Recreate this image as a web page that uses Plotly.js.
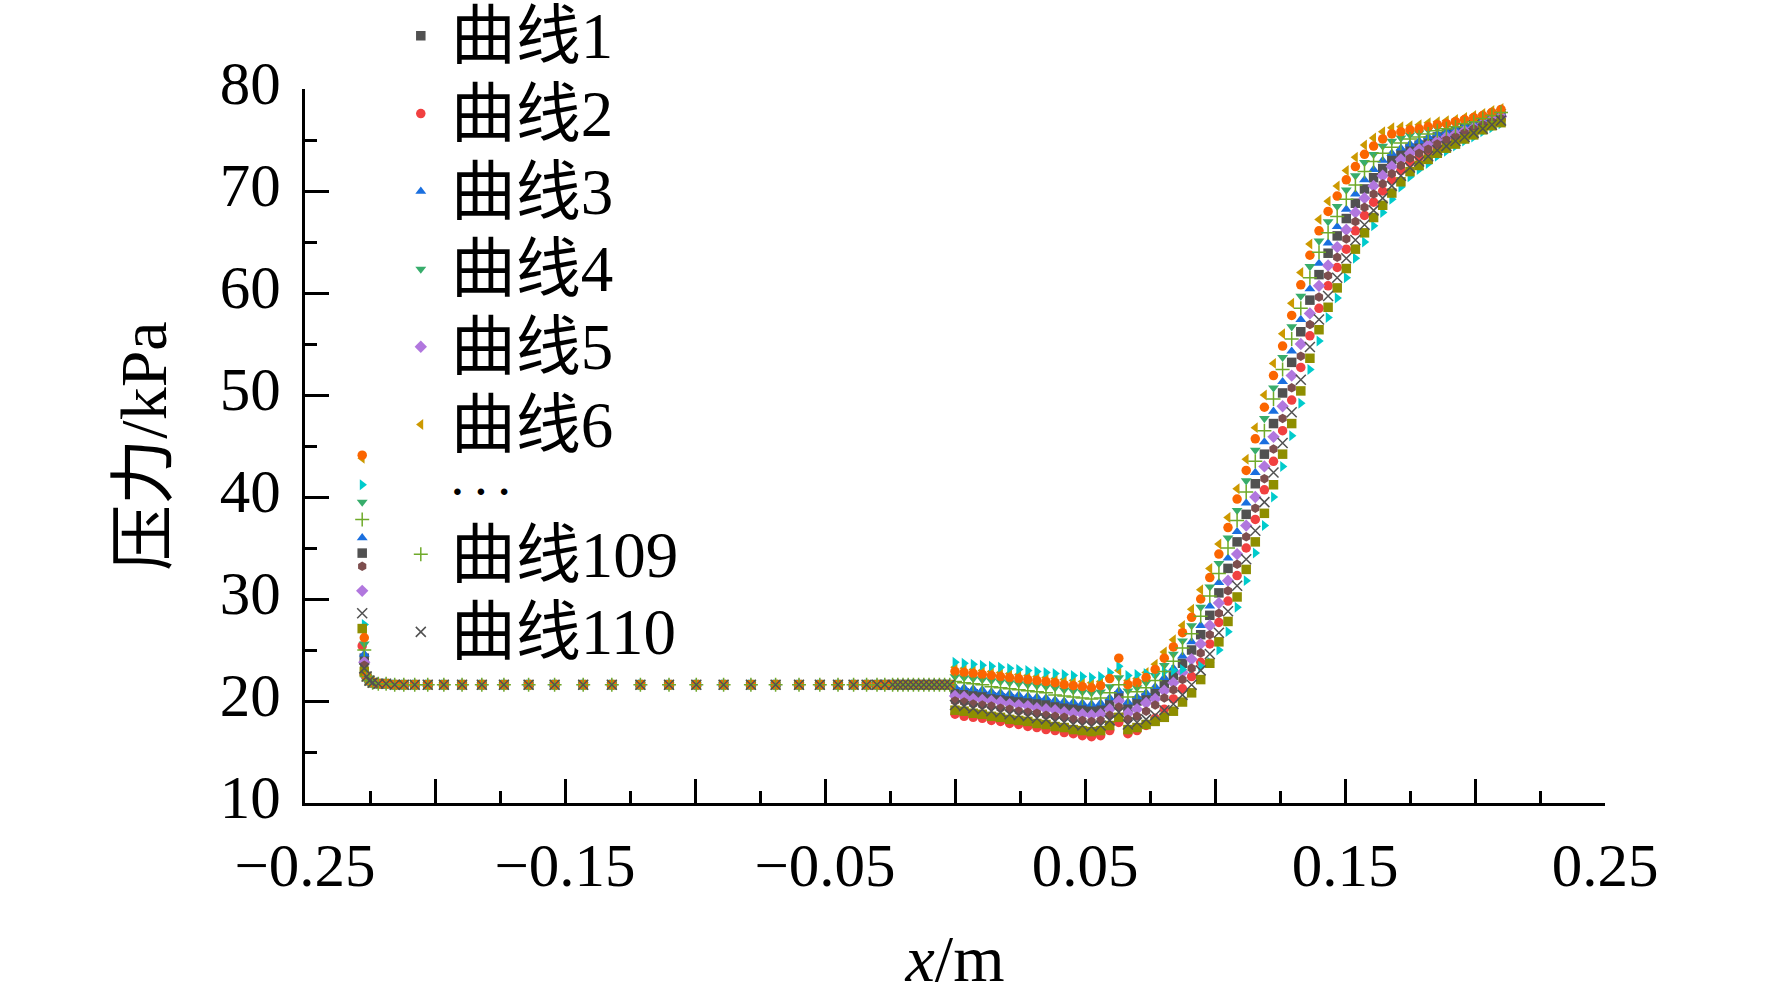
<!DOCTYPE html>
<html>
<head>
<meta charset="utf-8">
<script src="https://cdn.plot.ly/plotly-3.0.1.min.js"></script>
<style>
  html, body { margin: 0; padding: 0; background: #fff; }
  #plot { width: 1772px; height: 995px; }
</style>
</head>
<body>
<div id="plot"></div>
<script>
// approach section, same for every curve
const xHead = [-0.228, -0.2272]
const xLeft = [-0.2263, -0.2252, -0.2240, -0.2218, -0.2188, -0.2155, -0.2120, -0.2078, -0.2028, -0.1966,
  -0.1896, -0.1820, -0.1735, -0.1640, -0.1540, -0.1430, -0.1320, -0.1210, -0.1100, -0.0995,
  -0.0890, -0.0785, -0.0690, -0.0600, -0.0520, -0.0450, -0.0390, -0.0340, -0.0300, -0.0270,
  -0.0240, -0.0220, -0.0200, -0.0180, -0.0160, -0.0140, -0.0120, -0.0100, -0.0080, -0.0060,
  -0.0040, -0.0020]
const yLeft = [22.4, 22.0, 21.8, 21.7, 21.7, 21.6, 21.6, 21.6, 21.6, 21.6,
  21.6, 21.6, 21.6, 21.6, 21.6, 21.6, 21.6, 21.6, 21.6, 21.6,
  21.6, 21.6, 21.6, 21.6, 21.6, 21.6, 21.6, 21.6, 21.6, 21.6,
  21.6, 21.6, 21.6, 21.6, 21.6, 21.6, 21.6, 21.6, 21.6, 21.6,
  21.6, 21.6]

// diffuser section
const xRight = [0, 0.0035, 0.007, 0.0105, 0.014, 0.0175, 0.021, 0.0245, 0.028, 0.0315,
  0.035, 0.0385, 0.042, 0.0455, 0.049, 0.0525, 0.056, 0.0595, 0.063, 0.0665,
  0.07, 0.0735, 0.077, 0.0805, 0.084, 0.0875, 0.091, 0.0945, 0.098, 0.1015,
  0.105, 0.1085, 0.112, 0.1155, 0.119, 0.1225, 0.126, 0.1295, 0.133, 0.1365,
  0.14, 0.1435, 0.147, 0.1505, 0.154, 0.1575, 0.161, 0.1645, 0.168, 0.1715,
  0.175, 0.1785, 0.182, 0.1855, 0.189, 0.1925, 0.196, 0.1995, 0.203, 0.2065, 0.21]

// curve order: 1 2 3 4 5 6 7 8 9 10 109 110
const curveNames = ['曲线1', '曲线2', '曲线3', '曲线4', '曲线5', '曲线6', '曲线7', '曲线8', '曲线9', '曲线10', '曲线109', '曲线110']
const startY = [34.5, 25.4, 36.0, 39.5, 30.8, 43.8, 41.2, 33.2, 27.1, 44.1, 37.8, 28.6]
const secondY = [24.2, 22.6, 24.6, 25.6, 23.8, 26.8, 27.5, 23.5, 22.9, 26.2, 25.0, 23.2]

const curve1 = [20.9, 20.8, 20.7, 20.5, 20.4, 20.3, 20.2, 20.0, 19.9, 19.8, 19.7, 19.5, 19.4, 19.3, 19.2,
  19.1, 19.2, 19.7, 20.5, 19.3,
  20.0, 20.3, 20.9, 21.7, 22.5, 23.7, 25.0, 26.5, 28.4, 30.6, 33.0, 35.6, 38.3, 41.3, 44.2, 47.2, 50.2, 53.2, 56.2, 59.3,
  61.8, 63.9, 65.6, 67.3, 68.8, 70.2, 71.3, 72.2, 73.1, 73.6, 74.2, 74.5, 74.9, 75.3, 75.6, 75.8, 76.2, 76.5, 76.8, 77.1, 77.4]
const curve2 = [18.7, 18.5, 18.4, 18.3, 18.1, 18.0, 17.8, 17.7, 17.5, 17.4, 17.2, 17.1, 16.9, 16.8, 16.6,
  16.5, 16.6, 17.1, 17.9, 16.8,
  17.1, 17.6, 18.3, 19.2, 20.2, 21.2, 22.4, 23.8, 25.6, 27.7, 29.8, 32.3, 35.0, 37.8, 40.7, 43.5, 46.5, 49.5, 52.7, 55.8,
  58.5, 60.7, 62.5, 64.3, 66.1, 67.6, 68.9, 70.0, 71.1, 72.0, 72.8, 73.3, 73.8, 74.3, 74.7, 75.1, 75.5, 75.9, 76.3, 76.7, 77.0]
const curve3 = [21.4, 21.3, 21.2, 21.1, 20.9, 20.8, 20.7, 20.6, 20.5, 20.4, 20.3, 20.1, 20.0, 19.9, 19.8,
  19.7, 19.8, 20.3, 21.0, 19.9,
  20.4, 20.8, 21.4, 22.3, 23.2, 24.4, 25.8, 27.4, 29.3, 31.6, 34.0, 36.6, 39.4, 42.4, 45.4, 48.4, 51.3, 54.3, 57.4, 60.4,
  62.9, 64.9, 66.5, 68.2, 69.7, 71.1, 72.1, 73.0, 73.7, 74.2, 74.6, 74.9, 75.3, 75.6, 75.8, 76.1, 76.4, 76.6, 77.0, 77.3, 77.6]
const curve4 = [22.4, 22.3, 22.2, 22.1, 22.0, 21.9, 21.8, 21.7, 21.6, 21.5, 21.4, 21.3, 21.1, 21.0, 20.9,
  20.8, 20.9, 21.4, 22.3, 21.0,
  21.3, 21.8, 22.5, 23.5, 24.6, 25.9, 27.4, 29.2, 31.2, 33.5, 36.0, 38.7, 41.6, 44.6, 47.7, 50.7, 53.7, 56.7, 59.7, 62.6,
  65.1, 67.0, 68.5, 70.1, 71.5, 72.8, 73.6, 74.4, 74.9, 75.2, 75.5, 75.7, 76.0, 76.2, 76.4, 76.5, 76.8, 77.0, 77.3, 77.6, 77.8]
const curve5 = [20.5, 20.4, 20.2, 20.1, 20.0, 19.9, 19.7, 19.6, 19.5, 19.3, 19.2, 19.1, 18.9, 18.8, 18.7,
  18.6, 18.7, 19.2, 20.0, 18.8,
  19.2, 19.8, 20.2, 21.0, 21.8, 22.8, 24.1, 25.6, 27.4, 29.6, 31.8, 34.4, 37.2, 40.0, 43.0, 45.9, 48.9, 51.9, 55.0, 58.0,
  60.7, 62.7, 64.5, 66.2, 67.9, 69.3, 70.5, 71.5, 72.4, 73.1, 73.7, 74.1, 74.5, 74.9, 75.3, 75.6, 75.9, 76.2, 76.6, 77.0, 77.3]
const curve6 = [23.3, 23.2, 23.1, 23.0, 22.9, 22.8, 22.7, 22.6, 22.5, 22.4, 22.3, 22.2, 22.1, 22.0, 21.9,
  21.8, 21.9, 22.3, 23.0, 22.0,
  22.2, 22.8, 23.6, 24.8, 26.0, 27.4, 29.0, 30.9, 33.0, 35.4, 38.0, 40.8, 43.7, 46.8, 50.0, 53.1, 56.0, 59.0, 62.0, 64.8,
  67.2, 69.0, 70.5, 72.0, 73.3, 74.5, 75.2, 75.8, 76.2, 76.3, 76.4, 76.5, 76.7, 76.8, 76.9, 77.0, 77.2, 77.4, 77.6, 77.9, 78.1]
const curve7 = [23.8, 23.7, 23.6, 23.5, 23.4, 23.3, 23.2, 23.1, 23.0, 22.9, 22.8, 22.7, 22.6, 22.5, 22.4,
  22.3, 22.4, 22.8, 23.4, 22.5,
  22.6, 22.7, 22.8, 22.9, 23.0, 23.1, 23.2, 23.4, 23.8, 25.0, 26.8, 29.2, 31.8, 34.5, 37.2, 40.0, 43.0, 46.0, 49.2, 52.5,
  55.3, 57.6, 59.5, 61.5, 63.4, 65.0, 66.6, 67.9, 69.2, 70.4, 71.4, 72.1, 72.7, 73.4, 73.9, 74.4, 74.9, 75.3, 75.8, 76.2, 76.6]
const curve8 = [20.0, 19.9, 19.7, 19.6, 19.5, 19.3, 19.2, 19.0, 18.9, 18.8, 18.6, 18.5, 18.4, 18.2, 18.1,
  18.0, 18.1, 18.6, 19.4, 18.2,
  18.5, 19.0, 19.6, 20.3, 21.1, 22.1, 23.2, 24.7, 26.5, 28.6, 30.8, 33.4, 36.1, 38.9, 41.8, 44.7, 47.7, 50.7, 53.8, 56.9,
  59.6, 61.7, 63.5, 65.3, 67.0, 68.4, 69.7, 70.7, 71.7, 72.5, 73.2, 73.7, 74.1, 74.6, 75.0, 75.3, 75.7, 76.1, 76.5, 76.8, 77.1]
const curve9 = [19.1, 19.0, 18.8, 18.7, 18.5, 18.4, 18.2, 18.1, 18.0, 17.8, 17.7, 17.5, 17.4, 17.2, 17.1,
  17.0, 17.1, 17.6, 18.4, 17.2,
  17.4, 17.7, 18.0, 18.4, 19.0, 19.9, 20.8, 22.1, 23.7, 25.8, 27.8, 30.2, 32.9, 35.6, 38.4, 41.2, 44.2, 47.2, 50.4, 53.6,
  56.4, 58.6, 60.5, 62.4, 64.3, 65.9, 67.4, 68.6, 69.8, 70.9, 71.9, 72.5, 73.1, 73.7, 74.2, 74.6, 75.1, 75.5, 76.0, 76.4, 76.7]
const curve10 = [22.9, 22.8, 22.7, 22.6, 22.5, 22.4, 22.3, 22.2, 22.1, 22.0, 21.9, 21.8, 21.6, 21.5, 21.4,
  21.3, 21.5, 22.2, 24.2, 21.6,
  21.8, 22.3, 23.1, 24.2, 25.3, 26.7, 28.2, 30.0, 32.1, 34.4, 37.0, 39.8, 42.6, 45.7, 48.8, 51.9, 54.8, 57.8, 60.8, 63.7,
  66.1, 68.0, 69.5, 71.1, 72.4, 73.6, 74.4, 75.1, 75.6, 75.8, 76.0, 76.1, 76.3, 76.5, 76.6, 76.8, 77.0, 77.2, 77.4, 77.7, 78.0]
const curve109 = [21.9, 21.8, 21.7, 21.6, 21.4, 21.3, 21.2, 21.1, 21.0, 20.9, 20.8, 20.6, 20.5, 20.4, 20.3,
  20.2, 20.3, 20.8, 21.6, 20.4,
  20.9, 21.3, 22.0, 22.9, 23.9, 25.2, 26.6, 28.3, 30.3, 32.5, 35.0, 37.7, 40.5, 43.5, 46.5, 49.6, 52.5, 55.5, 58.5, 61.5,
  64.0, 65.9, 67.5, 69.2, 70.6, 71.9, 72.9, 73.7, 74.3, 74.7, 75.1, 75.3, 75.6, 75.9, 76.1, 76.3, 76.6, 76.8, 77.1, 77.4, 77.7]
const curve110 = [19.6, 19.5, 19.3, 19.2, 19.0, 18.9, 18.7, 18.6, 18.5, 18.3, 18.2, 18.0, 17.9, 17.7, 17.6,
  17.5, 17.6, 18.1, 18.9, 17.7,
  17.9, 18.2, 18.6, 19.1, 19.7, 20.6, 21.6, 23.0, 24.6, 26.7, 28.8, 31.3, 33.9, 36.7, 39.5, 42.4, 45.3, 48.3, 51.5, 54.7,
  57.4, 59.7, 61.5, 63.4, 65.2, 66.7, 68.1, 69.3, 70.5, 71.5, 72.3, 72.9, 73.4, 74.0, 74.4, 74.9, 75.3, 75.7, 76.1, 76.5, 76.9]

const curves = [curve1, curve2, curve3, curve4, curve5, curve6, curve7, curve8, curve9, curve10, curve109, curve110]

const xTickVals = [-0.25, -0.2, -0.15, -0.1, -0.05, 0, 0.05, 0.1, 0.15, 0.2, 0.25]
const xTickText = ['−0.25', '', '−0.15', '', '−0.05', '', '0.05', '', '0.15', '', '0.25']
const xMinorVals = [-0.225, -0.175, -0.125, -0.075, -0.025, 0.025, 0.075, 0.125, 0.175, 0.225]

// styles (Origin-like increment list)
const colors = ['#515151', '#F14040', '#1A6FDF', '#37AD6B', '#B177DE', '#CC9900', '#00CBCC', '#7D4E4E', '#8E8E00', '#FB6501', '#6FAA2A', '#515151']
const symbols = ['square', 'circle', 'triangle-up', 'triangle-down', 'diamond', 'triangle-left', 'triangle-right', 'hexagon', 'square', 'circle', 'cross-thin', 'x-thin']
const inLegend = [true, true, true, true, true, true, false, false, false, false, true, true]

const FONT = '"Liberation Serif", "Times New Roman", "Noto Sans CJK SC", serif'
const big = s => '<span style="font-size:65px">' + s + '</span>'

const traces = []
curves.forEach((c, i) => {
  const thin = symbols[i].endsWith('-thin')
  traces.push({
    type: 'scatter',
    mode: 'markers',
    name: big(curveNames[i]),
    x: xHead.concat(xLeft, xRight),
    y: [startY[i], secondY[i]].concat(yLeft, c),
    showlegend: inLegend[i],
    legend: i >= 10 ? 'legend2' : 'legend',
    marker: {
      symbol: symbols[i],
      size: thin ? 10 : 9.5,
      color: colors[i],
      line: thin ? { color: colors[i], width: 1.5 } : { width: 0 }
    }
  })
  if (i === 9) {
    // the dotted row of the legend
    traces.push({
      type: 'scatter',
      mode: 'markers',
      name: '<b>· · ·</b>',
      x: [null],
      y: [null],
      legend: 'legend3',
      showlegend: true,
      marker: { size: 8, color: 'rgba(0,0,0,0)' }
    })
  }
})

const axisCommon = {
  showline: true,
  linecolor: '#000',
  linewidth: 3,
  ticks: 'inside',
  ticklen: 24,
  tickwidth: 3,
  tickcolor: '#000',
  showgrid: false,
  zeroline: false,
  tickfont: { family: FONT, size: 61, color: '#000' }
}

const legendCommon = {
  xanchor: 'left',
  yanchor: 'top',
  bgcolor: 'rgba(0,0,0,0)',
  borderwidth: 0,
  itemwidth: 50,
  traceorder: 'normal',
  font: { family: FONT, size: 57.5, color: '#000' }
}

const layout = {
  width: 1772,
  height: 995,
  paper_bgcolor: '#fff',
  plot_bgcolor: '#fff',
  margin: { l: 305, r: 167, t: 89, b: 192, autoexpand: false },
  font: { family: FONT, color: '#000' },
  xaxis: Object.assign({}, axisCommon, {
    range: [-0.25, 0.25],
    tickmode: 'array',
    tickvals: xTickVals,
    ticktext: xTickText,
    ticklabelstandoff: 7,
    minor: { tickmode: 'array', tickvals: xMinorVals, ticks: 'inside', ticklen: 12, tickwidth: 3, tickcolor: '#000', showgrid: false },
    title: { text: '<i>x</i>/m', font: { family: FONT, size: 66, color: '#000' }, standoff: 48 }
  }),
  yaxis: Object.assign({}, axisCommon, {
    range: [10, 80],
    tickmode: 'linear',
    tick0: 10,
    dtick: 10,
    ticklabelstandoff: 9,
    ticklabelshift: -6,
    minor: { dtick: 5, ticks: 'inside', ticklen: 12, tickwidth: 3, tickcolor: '#000', showgrid: false },
    title: { text: '压力/kPa', font: { family: FONT, size: 66, color: '#000' }, standoff: 32 }
  }),
  legend: Object.assign({}, legendCommon, { x: 0.066, y: 1.136 }),
  legend2: Object.assign({}, legendCommon, { x: 0.066, y: 0.41 }),
  legend3: Object.assign({}, legendCommon, {
    x: 0.066, y: 0.485,
    font: { family: FONT, size: 40, color: '#000' }
  })
}

Plotly.newPlot('plot', traces, layout, { displayModeBar: false, staticPlot: true })
</script>
</body>
</html>
